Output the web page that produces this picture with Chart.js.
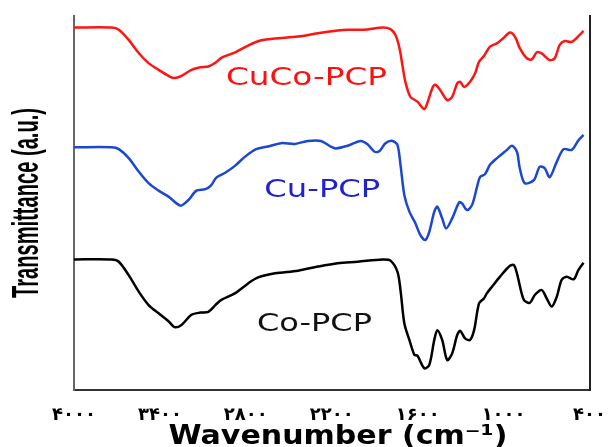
<!DOCTYPE html>
<html>
<head>
<meta charset="utf-8">
<script src="https://cdn.jsdelivr.net/npm/chart.js@4.4.1/dist/chart.umd.min.js"></script>
<style>
  html, body { margin: 0; padding: 0; background: #fff; }
  #wrap { width: 613px; height: 447px; }
</style>
</head>
<body>
<div id="wrap"><canvas id="c" width="613" height="447"></canvas></div>
<script>
// FTIR spectra of three porous coordination polymers (stacked, arbitrary units)

const tickValues = [4000, 3400, 2800, 2200, 1600, 1000, 400];
const tickLabels = ['۴۰۰۰', '۳۴۰۰', '۲۸۰۰', '۲۲۰۰', '۱۶۰۰', '۱۰۰۰', '۴۰۰'];

const seriesNames = ['CuCo-PCP', 'Cu-PCP', 'Co-PCP'];

// CuCo-PCP
const cucoWn = [4000, 3736, 3687, 3618, 3548, 3479, 3409, 3340, 3298, 3249, 3180, 3117, 3062, 3013, 2971, 2874, 2784, 2693, 2596, 2436, 2297, 2158, 2089, 1950, 1846, 1790, 1755, 1727, 1707, 1686, 1651, 1602, 1554, 1533, 1498, 1477, 1443, 1394, 1359, 1324, 1303, 1276, 1234, 1199, 1171, 1137, 1095, 1046, 998, 956, 921, 887, 838, 803, 768, 734, 678, 643, 609, 574, 525, 470, 442];
const cucoT = [96.9, 96.9, 96.3, 93.6, 90.1, 87.4, 85.6, 84.0, 83.4, 84.0, 85.6, 86.3, 86.5, 87.5, 88.8, 90.3, 92.1, 93.5, 94.0, 94.5, 95.4, 96.1, 96.3, 96.4, 96.9, 96.5, 94.9, 91.4, 86.9, 82.4, 78.4, 77.1, 75.1, 76.7, 80.7, 81.6, 80.2, 77.5, 78.4, 82.0, 82.4, 81.0, 82.4, 84.7, 87.8, 89.3, 91.8, 92.7, 94.2, 95.6, 94.5, 91.4, 88.7, 88.4, 90.3, 90.0, 88.2, 88.7, 92.2, 93.3, 93.1, 94.9, 96.0];

// Cu-PCP
const cuWn = [4000, 3736, 3687, 3618, 3548, 3479, 3409, 3340, 3256, 3201, 3145, 3083, 3041, 3006, 2944, 2874, 2805, 2728, 2645, 2554, 2457, 2367, 2276, 2207, 2172, 2089, 1998, 1950, 1901, 1866, 1825, 1776, 1741, 1720, 1693, 1658, 1616, 1581, 1547, 1519, 1484, 1463, 1429, 1401, 1359, 1310, 1290, 1255, 1220, 1185, 1164, 1130, 1095, 1046, 977, 942, 907, 887, 852, 789, 748, 713, 678, 629, 581, 525, 477, 442];
const cuT = [64.9, 64.9, 64.4, 62.0, 58.4, 55.3, 53.3, 51.7, 49.3, 50.8, 53.3, 53.7, 54.8, 56.8, 58.1, 60.0, 62.4, 64.4, 65.1, 66.0, 65.8, 66.6, 66.6, 65.1, 64.6, 65.3, 66.6, 65.7, 63.7, 63.9, 66.0, 66.6, 65.5, 60.2, 52.1, 47.7, 44.6, 41.4, 40.1, 42.3, 47.7, 49.0, 45.9, 43.2, 45.9, 50.2, 49.9, 48.1, 49.5, 54.4, 57.0, 57.7, 60.2, 62.0, 64.2, 65.3, 63.7, 59.3, 55.3, 56.1, 59.7, 59.3, 56.9, 61.0, 64.4, 64.2, 66.8, 68.2];

// Co-PCP
const coWn = [4000, 3736, 3687, 3618, 3548, 3479, 3409, 3340, 3298, 3249, 3180, 3117, 3062, 3013, 2971, 2874, 2784, 2714, 2596, 2436, 2297, 2158, 2019, 1846, 1790, 1741, 1720, 1693, 1658, 1623, 1602, 1554, 1519, 1484, 1463, 1429, 1394, 1359, 1324, 1303, 1269, 1234, 1206, 1171, 1137, 1116, 1081, 1025, 956, 928, 907, 859, 817, 782, 734, 699, 664, 629, 595, 560, 511, 477, 442];
const coT = [34.9, 34.9, 34.3, 30.7, 26.3, 22.7, 20.5, 18.4, 16.8, 17.4, 20.1, 20.7, 20.9, 22.7, 24.1, 25.9, 28.5, 30.1, 31.2, 31.9, 33.0, 33.9, 34.3, 34.9, 34.6, 31.6, 26.7, 17.8, 13.4, 9.4, 9.2, 5.8, 6.7, 13.4, 16.0, 13.4, 8.0, 9.8, 14.7, 15.8, 13.8, 13.4, 16.0, 23.2, 24.5, 25.9, 27.6, 30.3, 33.2, 33.4, 31.2, 24.1, 23.3, 25.4, 26.7, 24.5, 22.3, 24.9, 29.4, 30.3, 29.6, 32.1, 34.0];

const lineColors = ['#ff1414', '#1b47d2', '#000000'];
const textColors = ['#ff1010', '#1f22cf', '#111111'];
// where each series name is written, in axis units (wavenumber, baseline height)
const nameAnchors = [
  { wn: 2377, t: 81.6, width: 161 },
  { wn: 2266, t: 51.6, width: 116 },
  { wn: 2321, t: 15.8, width: 115 }
];

const zip = (xs, ys) => xs.map((x, i) => ({ x: x, y: ys[i] }));
const series = [zip(cucoWn, cucoT), zip(cuWn, cuT), zip(coWn, coT)];

function stretchedText(ctx, text, x, y, o) {
  ctx.save();
  ctx.translate(x, y);
  if (o.rotate) ctx.rotate(o.rotate);
  ctx.font = o.font;
  const w = ctx.measureText(text).width;
  ctx.scale(o.width ? o.width / w : 1, o.sy || 1);
  ctx.fillStyle = o.color;
  ctx.textAlign = 'center';
  ctx.textBaseline = 'alphabetic';
  ctx.fillText(text, 0, 0);
  ctx.restore();
}

const textPlugin = {
  id: 'spectraText',
  afterDraw(chart) {
    const ctx = chart.ctx;
    const xs = chart.scales.x, ys = chart.scales.y;
    seriesNames.forEach((name, i) => {
      const a = nameAnchors[i];
      stretchedText(ctx, name, xs.getPixelForValue(a.wn), ys.getPixelForValue(a.t),
        { font: '24px "DejaVu Sans"', width: a.width, color: textColors[i] });
    });
    // axis titles
    stretchedText(ctx, 'Wavenumber (cm\u207B\u00B9)', 338, 444,
      { font: 'bold 26px "DejaVu Sans"', width: 339, color: '#000' });
    stretchedText(ctx, 'Transmittance (a.u.)', 38, 203,
      { font: 'bold 26px "Liberation Sans"', width: 190, sy: 1.45, rotate: -Math.PI / 2, color: '#000' });
  }
};

new Chart(document.getElementById('c'), {
  type: 'line',
  data: {
    datasets: series.map((pts, i) => ({
      label: seriesNames[i],
      data: pts,
      borderColor: lineColors[i],
      borderWidth: 2.5,
      pointRadius: 0,
      fill: false,
      tension: 0.3
    }))
  },
  options: {
    responsive: false,
    animation: false,
    layout: { padding: { top: 16, right: 20, left: 0, bottom: 0 } },
    plugins: { legend: { display: false }, tooltip: { enabled: false } },
    scales: {
      x: {
        type: 'linear',
        reverse: true,
        min: 400,
        max: 4000,
        grid: { display: false },
        border: { display: true, color: '#333', width: 2 },
        afterBuildTicks(s) { s.ticks = tickValues.map(v => ({ value: v })); },
        afterFit(s) { s.height = 57; },
        ticks: {
          autoSkip: false,
          maxRotation: 0,
          padding: 7,
          color: '#000',
          font: { family: '"DejaVu Sans"', size: 18, weight: 'bold' },
          callback(v) { const k = tickValues.indexOf(v); return k >= 0 ? tickLabels[k] : ''; }
        }
      },
      y: {
        min: 0,
        max: 100,
        grid: { display: false },
        border: { display: true, color: '#666', width: 2 },
        ticks: { display: false },
        afterFit(s) { s.width = 74; }
      },
      yRight: {
        position: 'right',
        grid: { display: false },
        border: { display: true, color: '#222', width: 2 },
        ticks: { display: false },
        afterFit(s) { s.width = 0; }
      }
    }
  },
  plugins: [textPlugin]
});
</script>
</body>
</html>
